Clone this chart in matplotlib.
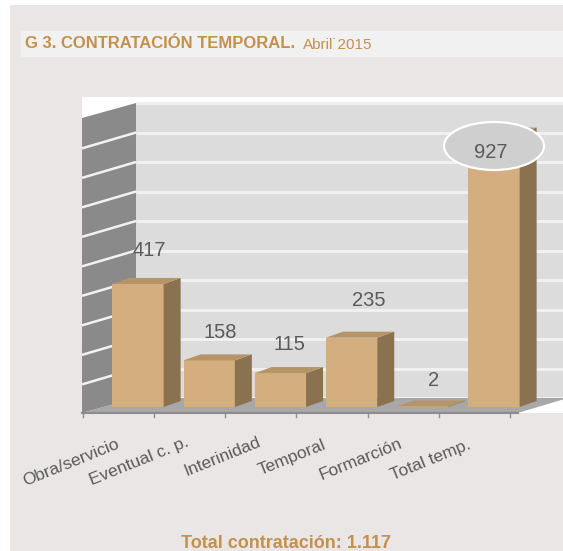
import matplotlib
matplotlib.use("Agg")
import matplotlib.pyplot as plt
from matplotlib.patches import Polygon, Rectangle, Ellipse

# Datos
categorias = ["Obra/servicio", "Eventual c. p.", "Interinidad", "Temporal", "Formarción", "Total temp."]
valores = [417, 158, 115, 235, 2, 927]
marcas_y = [0, 100, 200, 300, 400, 500, 600, 700, 800, 900, 1000]

ANCHO, ALTO = 563, 551
SANS = ["Liberation Sans", "DejaVu Sans"]
DORADO = "#c4904e"
GRIS = "#5a5a5a"

fig = plt.figure(figsize=(ANCHO / 100, ALTO / 100), dpi=100, facecolor="white")

# Capa de fondo en pixeles
bg = fig.add_axes([0, 0, 1, 1])
bg.set_xlim(0, ANCHO)
bg.set_ylim(ALTO, 0)
bg.axis("off")
bg.add_patch(Rectangle((10, 5), ANCHO - 10, ALTO - 5, fc="#ebe6e6", ec="none"))
bg.add_patch(Rectangle((21, 31), ANCHO - 21, 26, fc="#f1f1f1", ec="none"))
bg.add_patch(Rectangle((82, 97), ANCHO - 82, 316, fc="white", ec="none"))

# Ejes de datos: la cara frontal de las barras
x0, x1, y0, y1 = 82, 563, 97, 413
paso_x = 71.2
paso_y = 0.295
ax = fig.add_axes([x0 / ANCHO, 1 - y1 / ALTO, (x1 - x0) / ANCHO, (y1 - y0) / ALTO])
ax.set_xlim((x0 - 138) / paso_x, (x1 - 138) / paso_x)
ax.set_ylim((407 - y1) / paso_y, (407 - y0) / paso_y)
ax.axis("off")
ax.patch.set_alpha(0)

# Profundidad 3D
prof_x = 17 / paso_x
prof_y = 6 / paso_y
pared_x = (136 - 138) / paso_x
izq_x = ax.get_xlim()[0]
dcha_x = ax.get_xlim()[1]
suelo_y = 9 / paso_y
caida = 15 / paso_y

# Pared del fondo, suelo y pared izquierda
ax.add_patch(Polygon([(pared_x, suelo_y), (dcha_x, suelo_y), (dcha_x, marcas_y[-1] + suelo_y), (pared_x, marcas_y[-1] + suelo_y)],
                     fc="#dcdcdc", ec="none", zorder=1))
fin_suelo = (518 - 138) / paso_x
ax.add_patch(Polygon([(izq_x, -20), (fin_suelo, -20), (dcha_x, suelo_y - 5), (dcha_x, suelo_y), (pared_x, suelo_y)],
                     fc="#a8a8a8", ec="none", zorder=2))
ax.add_patch(Polygon([(izq_x, -20), (pared_x, suelo_y), (pared_x, marcas_y[-1] + suelo_y), (izq_x, marcas_y[-1] + suelo_y - caida)],
                     fc="#8a8a8a", ec="none", zorder=2))

for v in marcas_y:
    ax.plot([pared_x, dcha_x], [v + suelo_y, v + suelo_y], color="#f0f0f0", lw=2.2, zorder=1.5, solid_capstyle="butt")
    if v < marcas_y[-1] and v > 0:
        ax.plot([izq_x, pared_x], [v + suelo_y - caida - 3, v + suelo_y], color="#f2f2f2", lw=1.8, zorder=3, solid_capstyle="butt")

# Linea frontal y marcas del eje
ax.plot([izq_x, fin_suelo], [-20, -20], color="#8c8c8c", lw=1.5, zorder=3, clip_on=False)
for i in range(-1, len(valores)):
    ax.plot([i + 0.225, i + 0.225], [-20, -35], color="#8c8c8c", lw=1, zorder=3, clip_on=False)

# Barras
ancho_barra = 0.72
for i, v in enumerate(valores):
    a = i - ancho_barra / 2
    b = i + ancho_barra / 2
    ax.bar(i, v, width=ancho_barra, color="#d4ae7f", zorder=5)
    ax.add_patch(Polygon([(b, 0), (b + prof_x, prof_y), (b + prof_x, v + prof_y), (b, v)], fc="#8a7150", ec="none", zorder=5))
    ax.add_patch(Polygon([(a, v), (a + prof_x, v + prof_y), (b + prof_x, v + prof_y), (b, v)], fc="#b59468", ec="none", zorder=5))

# Capa superior para textos y elipse
top = fig.add_axes([0, 0, 1, 1])
top.set_xlim(0, ANCHO)
top.set_ylim(ALTO, 0)
top.axis("off")
top.patch.set_alpha(0)

top.add_patch(Ellipse((494, 146), 100, 48, fc="#cfcfcf", ec="white", lw=1.6))

pos_valores = [(149, 250), (220, 332), (289, 344), (369, 300), (434, 380), (491, 152)]
for v, (px, py) in zip(valores, pos_valores):
    top.text(px, py, str(v), ha="center", va="center", fontsize=14.5, color=GRIS, family=SANS)

pos_cat = [(71, 463), (139, 461), (222, 457), (292, 458), (361, 459), (431, 460)]
for c, (px, py) in zip(categorias, pos_cat):
    top.text(px, py, c, ha="center", va="center", rotation=22, fontsize=12.5, color=GRIS, family=SANS)

top.text(25, 44, "G 3. CONTRATACIÓN TEMPORAL.", ha="left", va="center", fontsize=12, fontweight="bold", color=DORADO, family=SANS)
top.text(303, 45, "Abril˙2015", ha="left", va="center", fontsize=11, color=DORADO, family=SANS)
top.text(286, 543, "Total contratación: 1.117", ha="center", va="center", fontsize=13, fontweight="bold", color=DORADO, family=SANS)

fig.savefig("out.png", dpi=100, facecolor=fig.get_facecolor())
